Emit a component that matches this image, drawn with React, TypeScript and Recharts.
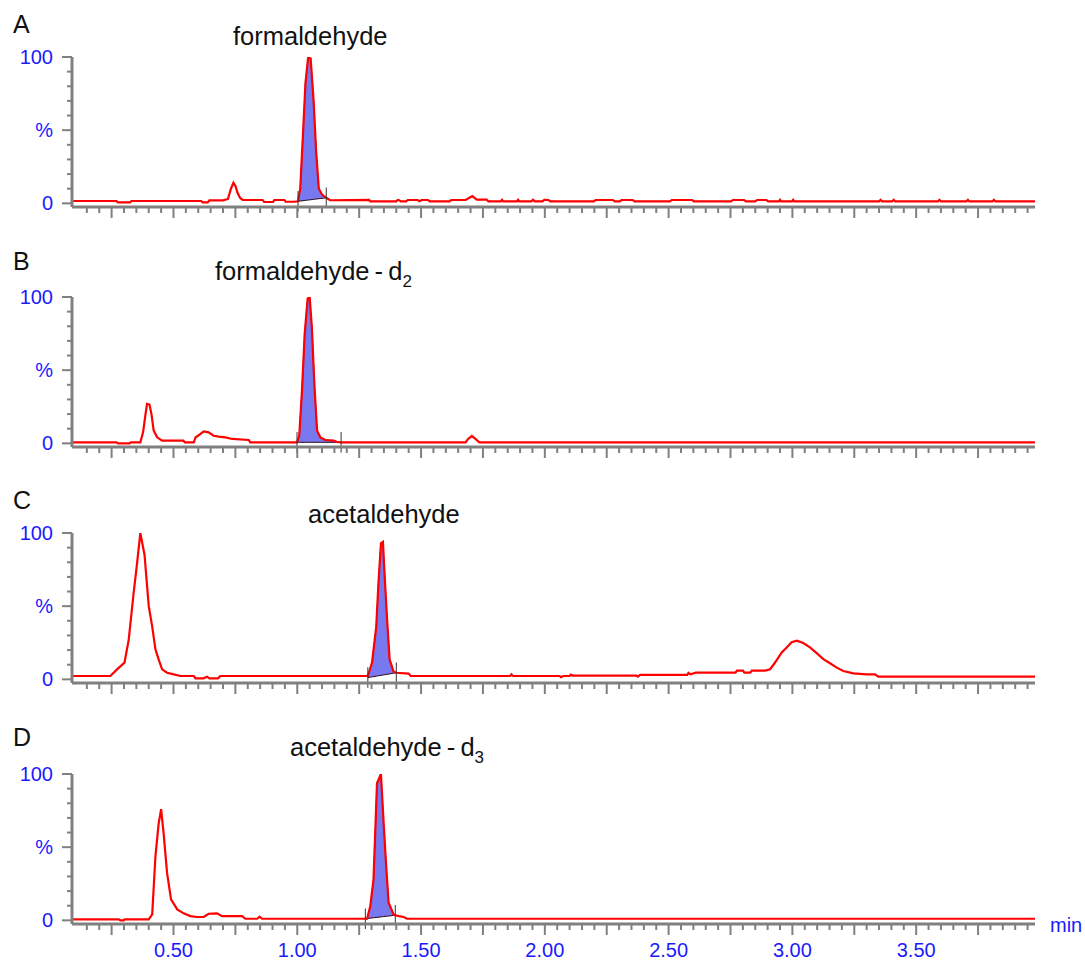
import { ComposedChart, Line, Area, XAxis, YAxis, ReferenceLine } from "recharts";

type Pt = [number, number];

// retention time (min), relative intensity (%)
const traceA: Pt[] = [
  [0.09, 1.6], [0.27, 1.6], [0.275, 0.6], [0.325, 0.6], [0.33, 1.6], [0.612, 1.6], [0.618, 0.6], [0.638, 0.6],
  [0.645, 2.0], [0.7, 2.0], [0.72, 3.0], [0.732, 10], [0.742, 14], [0.75, 12], [0.759, 7], [0.77, 3.5], [0.78, 2.3],
  [0.86, 2.3], [0.866, 0.9], [0.902, 0.9], [0.907, 2.3], [0.948, 2.3], [0.953, 1.1], [0.99, 1.1], [1.003, 1.4],
  [1.012, 10], [1.023, 47], [1.033, 82], [1.044, 100], [1.054, 99], [1.066, 70], [1.076, 36], [1.087, 10],
  [1.1, 6], [1.117, 3.8], [1.133, 2.1], [1.29, 2.3], [1.295, 1.3], [1.4, 1.3], [1.405, 2.3], [1.41, 2.3],
  [1.418, 1.3], [1.44, 1.3], [1.446, 2.3], [1.486, 2.3], [1.494, 1.5], [1.502, 2.3], [1.528, 2.3], [1.535, 1.3],
  [1.615, 1.3], [1.622, 2.3], [1.68, 2.3], [1.707, 5], [1.725, 2.6], [1.765, 2.6], [1.772, 1.3], [1.822, 1.3],
  [1.827, 2.4], [1.832, 1.3], [1.887, 1.3], [1.892, 2.4], [1.897, 1.3], [1.945, 1.3], [1.952, 2.4], [1.96, 1.3],
  [1.99, 1.3], [1.998, 2.4], [2.015, 2.3], [2.022, 1.3], [2.198, 1.3], [2.205, 2.3], [2.275, 2.3], [2.282, 1.3],
  [2.303, 1.3], [2.31, 2.3], [2.355, 2.3], [2.362, 1.3], [2.505, 1.3], [2.513, 2.3], [2.595, 2.3], [2.602, 1.3],
  [2.752, 1.3], [2.76, 2.3], [2.805, 2.3], [2.812, 1.3], [2.85, 1.3], [2.857, 2.3], [2.895, 2.3], [2.902, 1.3],
  [2.945, 1.3], [2.95, 2.4], [2.955, 1.3], [2.998, 1.3], [3.003, 2.4], [3.008, 1.3], [3.35, 1.3], [3.356, 2.4],
  [3.362, 1.3], [3.403, 1.3], [3.409, 2.4], [3.415, 1.3], [3.588, 1.3], [3.594, 2.4], [3.6, 1.3], [3.703, 1.3],
  [3.709, 2.4], [3.715, 1.3], [3.808, 1.3], [3.814, 2.4], [3.82, 1.3], [3.98, 1.3],
];

const traceB: Pt[] = [
  [0.09, 0.7], [0.27, 0.7], [0.276, 0], [0.322, 0], [0.328, 0.7], [0.366, 0.7], [0.377, 7.5], [0.387, 20],
  [0.393, 27], [0.403, 26.5], [0.411, 20], [0.42, 8.7], [0.434, 4.1], [0.454, 1.8], [0.54, 1.8], [0.546, 0.7],
  [0.582, 0.7], [0.589, 4], [0.609, 6.4], [0.622, 8.2], [0.642, 7.5], [0.662, 5.2], [0.683, 4.6], [0.71, 4.1],
  [0.737, 3], [0.804, 2.3], [0.81, 0.7], [0.999, 0.7], [1.008, 5.2], [1.019, 36], [1.03, 75], [1.042, 99],
  [1.05, 100], [1.059, 79], [1.069, 40.6], [1.08, 8.7], [1.093, 4.1], [1.113, 2.3], [1.147, 1.8], [1.161, 0.9],
  [1.177, 0.7], [1.68, 0.7], [1.69, 3], [1.705, 5], [1.72, 3], [1.735, 0.7], [3.98, 0.7],
];

const traceC: Pt[] = [
  [0.09, 2.3], [0.245, 2.3], [0.272, 6.8], [0.302, 11.4], [0.319, 27], [0.339, 59], [0.353, 79.5], [0.366, 100],
  [0.383, 85], [0.4, 50], [0.414, 36], [0.427, 20.5], [0.44, 13.6], [0.454, 6.8], [0.474, 4.5], [0.501, 3.4],
  [0.528, 2.3], [0.582, 2.3], [0.589, 0.7], [0.621, 0.7], [0.636, 1.8], [0.645, 0.7], [0.68, 0.7], [0.689, 2.3],
  [1.285, 2.3], [1.302, 11.4], [1.319, 36], [1.328, 66], [1.338, 93], [1.346, 94], [1.351, 77], [1.362, 43],
  [1.373, 13.6], [1.389, 5.2], [1.4, 4.5], [1.45, 3.9], [1.458, 2.3], [1.86, 2.3], [1.865, 3.4], [1.872, 2.3],
  [2.06, 2.3], [2.065, 1.5], [2.075, 2.3], [2.1, 2.3], [2.105, 3.2], [2.112, 2.6], [2.37, 2.6], [2.376, 1.8],
  [2.385, 3.0], [2.575, 3.0], [2.58, 4.4], [2.588, 3.4], [2.61, 4.6], [2.77, 4.6], [2.776, 6], [2.8, 6],
  [2.806, 4.6], [2.83, 4.6], [2.836, 6], [2.89, 6], [2.91, 6.9], [2.93, 11.5], [2.957, 18.4], [2.977, 21.8],
  [2.997, 25.3], [3.018, 26.4], [3.044, 24.8], [3.071, 21.8], [3.098, 17.9], [3.125, 13.8], [3.152, 11],
  [3.179, 8], [3.206, 5.7], [3.246, 4.1], [3.3, 3.4], [3.334, 3.4], [3.347, 1.8], [3.98, 1.8],
];

const traceD: Pt[] = [
  [0.09, 0.7], [0.279, 0.7], [0.286, 0], [0.299, 0], [0.302, 0.7], [0.4, 0.7], [0.414, 4.1], [0.427, 43.8],
  [0.44, 66], [0.45, 76], [0.46, 59.6], [0.474, 32.4], [0.49, 14.3], [0.515, 7.5], [0.541, 4.8], [0.568, 2.9],
  [0.595, 2.3], [0.622, 2.3], [0.642, 4.5], [0.676, 4.8], [0.696, 2.9], [0.777, 2.9], [0.79, 1.1], [0.838, 1.1],
  [0.848, 2.5], [0.858, 1.1], [1.275, 1.1], [1.282, 1.1], [1.295, 9.8], [1.308, 27.9], [1.322, 93.7],
  [1.338, 100], [1.349, 66], [1.36, 34.7], [1.369, 12], [1.389, 4.1], [1.396, 3.5], [1.41, 2.9], [1.43, 2.3],
  [1.443, 1.1], [3.98, 1.1],
];

// integration baseline: [start time, start level], [end time, end level]
const peakA: Pt[] = [[1.003, 1.4], [1.117, 3.8]];
const peakB: Pt[] = [[0.999, 0.7], [1.177, 0.7]];
const peakC: Pt[] = [[1.285, 1.2], [1.4, 4.5]];
const peakD: Pt[] = [[1.275, 1.1], [1.396, 3.5]];

const letters = ["A", "B", "C", "D"];
const titles = ["formaldehyde", "formaldehyde", "acetaldehyde", "acetaldehyde"];
const subscripts = ["", "2", "", "3"];

const yTicks = [0, 10, 20, 30, 40, 50, 60, 70, 80, 90, 100];
const yLabels: Record<number, string> = { 0: "0", 50: "%", 100: "100" };
const xLabelTicks = [0.5, 1.0, 1.5, 2.0, 2.5, 3.0, 3.5];
const xLabels = ["0.50", "1.00", "1.50", "2.00", "2.50", "3.00", "3.50"];
const xTicks: number[] = [];
for (let i = 3; i <= 79; i++) xTicks.push(+(i * 0.05).toFixed(2));

const FONT = '"Liberation Sans", Arial, Helvetica, sans-serif';
const AXIS = "#808080";
const BLUE = "#1a1aff";
const RED = "#ff0000";
const FILL = "#7878f0";

// layout (page pixels)
const W = 1085;
const CH = 210;
const plotTops = [57, 297, 533, 774];
const letterY = [33, 270, 509, 746];
const titleX = [233, 215, 308, 290];
const titleY = [45, 280, 523, 756];

const XTick = (props: any) => {
  const { x, y, payload, showLabels } = props;
  const v = payload.value;
  const major = Math.abs(v * 4 - Math.round(v * 4)) < 1e-6;
  const li = xLabelTicks.findIndex(t => Math.abs(t - v) < 1e-6);
  return (
    <g>
      <line x1={x} x2={x} y1={y} y2={y + (major ? 11 : 6)} stroke={AXIS} strokeWidth={2} />
      {showLabels && li >= 0 && (
        <text x={x} y={y + 33} textAnchor="middle" fill={BLUE} fontSize={20} fontFamily={FONT}>
          {xLabels[li]}
        </text>
      )}
    </g>
  );
};

const YTick = (props: any) => {
  const { x, y, payload } = props;
  const v = payload.value;
  const major = v % 50 === 0;
  return (
    <g>
      <line x1={x - (major ? 10 : 5)} x2={x} y1={y} y2={y} stroke={AXIS} strokeWidth={2} />
      {yLabels[v] && (
        <text x={x - 19} y={y + 7} textAnchor="end" fill={BLUE} fontSize={20} fontFamily={FONT}>
          {yLabels[v]}
        </text>
      )}
    </g>
  );
};

const Panel = ({ trace, peak, showLabels }: { trace: Pt[]; peak: Pt[]; showLabels: boolean }) => {
  const [s, e] = peak;
  const baseAt = (t: number) => s[1] + ((e[1] - s[1]) * (t - s[0])) / (e[0] - s[0]);
  const data = trace.map(([t, v]) => ({
    t,
    v,
    band: t >= s[0] - 1e-9 && t <= e[0] + 1e-9 ? [baseAt(t), v] : null,
  }));
  return (
    <ComposedChart width={W} height={CH} data={data} margin={{ top: 10, right: 50, left: 0, bottom: 10 }}>
      <XAxis
        dataKey="t"
        type="number"
        domain={[0.09, 3.98]}
        allowDataOverflow
        ticks={xTicks}
        interval={0}
        height={40}
        tickSize={0}
        tickMargin={0}
        tickLine={false}
        axisLine={{ stroke: AXIS, strokeWidth: 3 }}
        tick={(p: any) => <XTick {...p} showLabels={showLabels} />}
      />
      <YAxis
        type="number"
        domain={[-2.5, 100]}
        allowDataOverflow
        ticks={yTicks}
        interval={0}
        width={72}
        tickSize={0}
        tickMargin={0}
        tickLine={false}
        axisLine={{ stroke: AXIS, strokeWidth: 3 }}
        tick={(p: any) => <YTick {...p} />}
      />
      <Line type="linear" dataKey="v" stroke={RED} strokeWidth={2.2} dot={false} isAnimationActive={false} />
      <Area
        type="linear"
        dataKey="band"
        stroke="#2a0a18"
        strokeWidth={1}
        fill={FILL}
        fillOpacity={1}
        dot={false}
        activeDot={false}
        isAnimationActive={false}
      />
      <ReferenceLine
        segment={[{ x: s[0], y: s[1] - 7 }, { x: s[0], y: s[1] + 7 }]}
        stroke="#333"
        strokeWidth={1}
        ifOverflow="visible"
      />
      <ReferenceLine
        segment={[{ x: e[0], y: e[1] - 7 }, { x: e[0], y: e[1] + 7 }]}
        stroke="#333"
        strokeWidth={1}
        ifOverflow="visible"
      />
    </ComposedChart>
  );
};

const panels = [
  { trace: traceA, peak: peakA },
  { trace: traceB, peak: peakB },
  { trace: traceC, peak: peakC },
  { trace: traceD, peak: peakD },
];

export default function App() {
  return (
    <div style={{ position: "absolute", top: 0, left: 0, width: W, height: 963, background: "#fff", overflow: "hidden" }}>
      {panels.map((p, i) => (
        <div key={i} style={{ position: "absolute", left: 0, top: plotTops[i] - 10 }}>
          <Panel trace={p.trace} peak={p.peak} showLabels={i === 3} />
        </div>
      ))}
      <svg width={W} height={963} style={{ position: "absolute", top: 0, left: 0, pointerEvents: "none" }}>
        {letters.map((l, i) => (
          <text key={l} x={13} y={letterY[i]} fontSize={25} fontFamily={FONT} fill="#111">
            {l}
          </text>
        ))}
        {titles.map((t, i) => (
          <text key={i} x={titleX[i]} y={titleY[i]} fontSize={25.5} fontFamily={FONT} fill="#111">
            {subscripts[i] ? `${t}\u2009-\u2009d` : t}
            {subscripts[i] && (
              <tspan dy={7} fontSize={17}>
                {subscripts[i]}
              </tspan>
            )}
          </text>
        ))}
        <text x={1050} y={932} fontSize={20} fontFamily={FONT} fill={BLUE}>
          min
        </text>
      </svg>
    </div>
  );
}
